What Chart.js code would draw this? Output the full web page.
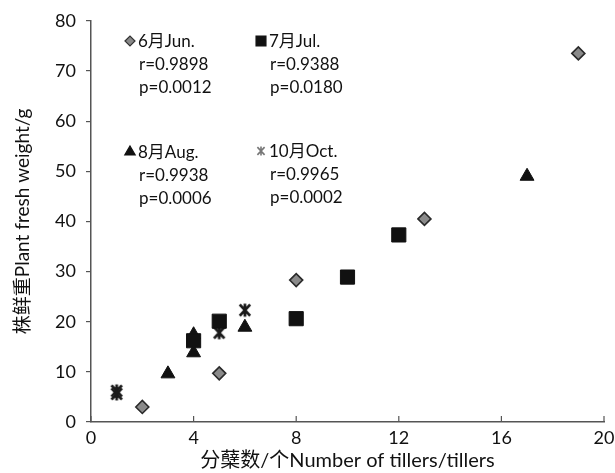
<!DOCTYPE html>
<html>
<head>
<meta charset="utf-8">
<script src="https://cdn.jsdelivr.net/npm/chart.js@4.4.1/dist/chart.umd.min.js"></script>
<style>
  html, body { margin: 0; padding: 0; background: #fff; }
  #wrap { width: 615px; height: 473px; }
</style>
</head>
<body>
<div id="wrap"><canvas id="chart" width="615" height="473"></canvas></div>
<script>
// --- data ---
const junX = [2, 5, 8, 13, 19];
const junY = [3.0, 9.7, 28.3, 40.5, 73.5];
const julX = [4, 5, 8, 10, 12];
const julY = [16.2, 20.1, 20.6, 28.9, 37.3];
const augX = [3, 4, 4, 6, 17];
const augY = [9.6, 13.8, 17.4, 18.9, 49.0];
const octX = [1, 1, 5, 6];
const octY = [5.6, 6.2, 17.8, 22.3];

const seriesNames = ['6月Jun.', '7月Jul.', '8月Aug.', '10月Oct.'];
const seriesR = ['r=0.9898', 'r=0.9388', 'r=0.9938', 'r=0.9965'];
const seriesP = ['p=0.0012', 'p=0.0180', 'p=0.0006', 'p=0.0002'];
const xTicks = [0, 4, 8, 12, 16, 20];

const FONT = 'Lato, "Noto Sans CJK SC", sans-serif';
const TXT = '#111';
const toPts = (xs, ys) => xs.map((x, i) => ({ x, y: ys[i] }));

// Excel-like asterisk marker (X plus vertical bar)
function makeStar(size, color, lw) {
    const c = document.createElement('canvas');
    c.width = size; c.height = size;
    const g = c.getContext('2d');
    const m = size / 2, a = size / 2 - 1.5;
    g.strokeStyle = color;
    g.lineWidth = lw;
    g.beginPath();
    g.moveTo(m - a * 0.8, m - a * 0.87); g.lineTo(m + a * 0.8, m + a * 0.87);
    g.moveTo(m + a * 0.8, m - a * 0.87); g.lineTo(m - a * 0.8, m + a * 0.87);
    g.moveTo(m, m - a); g.lineTo(m, m + a);
    g.stroke();
    return c;
}
const starBig = makeStar(16, '#1a1a1a', 2.8);
const starSmall = makeStar(12, '#777', 1.6);

// legend-like annotations inside the plot
const notePlugin = {
    id: 'notes',
    afterDatasetsDraw(chart) {
        const ctx = chart.ctx;
        const cols = [[126, 41], [257, 41], [126, 152], [257, 151]];
        const styles = [
            { style: 'rectRot', r: 5, fill: '#888', stroke: '#333' },
            { style: 'rect', r: 7, fill: '#111', stroke: '#111' },
            { style: 'triangle', r: 6, fill: '#111', stroke: '#111' },
            { style: starSmall, r: 6, fill: '#777', stroke: '#777' }
        ];
        ctx.save();
        ctx.font = '17px ' + FONT;
        ctx.textBaseline = 'middle';
        cols.forEach(([mx, my], i) => {
            const s = styles[i];
            ctx.fillStyle = s.fill;
            ctx.strokeStyle = s.stroke;
            ctx.lineWidth = 1.2;
            Chart.helpers.drawPoint(ctx, { pointStyle: s.style, radius: s.r, borderWidth: 1.2 }, mx + 4, my);
            ctx.fillStyle = TXT;
            ctx.fillText(seriesNames[i], mx + 12, my + 1);
            ctx.fillText(seriesR[i], mx + 13, my + 24);
            ctx.fillText(seriesP[i], mx + 13, my + 47);
        });
        ctx.restore();
    }
};

// inward ticks on the x axis
const tickPlugin = {
    id: 'innerTicks',
    afterDraw(chart) {
        const ctx = chart.ctx, xs = chart.scales.x, ys = chart.scales.y;
        const y0 = ys.getPixelForValue(0);
        ctx.save();
        ctx.strokeStyle = '#555';
        ctx.lineWidth = 1.2;
        ctx.beginPath();
        xTicks.forEach(v => {
            const px = xs.getPixelForValue(v);
            ctx.moveTo(px, y0); ctx.lineTo(px, y0 - 6);
        });
        ctx.stroke();
        ctx.restore();
    }
};

new Chart(document.getElementById('chart'), {
    type: 'scatter',
    data: {
        datasets: [
            { label: seriesNames[0], data: toPts(junX, junY), pointStyle: 'rectRot', pointRadius: 6.5,
              backgroundColor: '#8a8a8a', borderColor: '#2a2a2a', borderWidth: 1.6 },
            { label: seriesNames[1], data: toPts(julX, julY), pointStyle: 'rect', pointRadius: 10,
              backgroundColor: '#111', borderColor: '#111', borderWidth: 1 },
            { label: seriesNames[2], data: toPts(augX, augY), pointStyle: 'triangle', pointRadius: 8,
              backgroundColor: '#111', borderColor: '#111', borderWidth: 1 },
            { label: seriesNames[3], data: toPts(octX, octY), pointStyle: starBig, pointRadius: 8,
              backgroundColor: '#1a1a1a', borderColor: '#1a1a1a' }
        ]
    },
    options: {
        responsive: false,
        animation: false,
        layout: { padding: { top: 20, right: 0, left: 0, bottom: 0 } },
        plugins: { legend: { display: false }, tooltip: { enabled: false } },
        scales: {
            x: {
                type: 'linear', min: 0, max: 20,
                afterBuildTicks: s => { s.ticks = xTicks.map(v => ({ value: v })); },
                afterFit: s => { s.height = 51; s.paddingRight = 11; },
                grid: { display: true, drawOnChartArea: false, drawTicks: false },
                border: { display: true, color: '#555', width: 1.5 },
                ticks: { color: TXT, padding: 5, font: { size: 18, family: FONT } },
                title: { display: true, text: '分蘖数/个Number of tillers/tillers', color: TXT, padding: { top: 0, bottom: 0 },
                         font: { size: 20, family: FONT } }
            },
            y: {
                min: 0, max: 80,
                ticks: { stepSize: 10, color: TXT, padding: 10, font: { size: 18, family: FONT } },
                afterFit: s => { s.width = 91; },
                grid: { display: true, drawOnChartArea: false, drawTicks: true, tickLength: 5, color: '#555', lineWidth: 1.2 },
                border: { display: true, color: '#555', width: 1.5 },
                title: { display: true, text: '株鲜重Plant fresh weight/g', color: TXT, padding: { top: 11, bottom: 0 },
                         font: { size: 19, family: FONT } }
            }
        }
    },
    plugins: [notePlugin, tickPlugin]
});
</script>
</body>
</html>
